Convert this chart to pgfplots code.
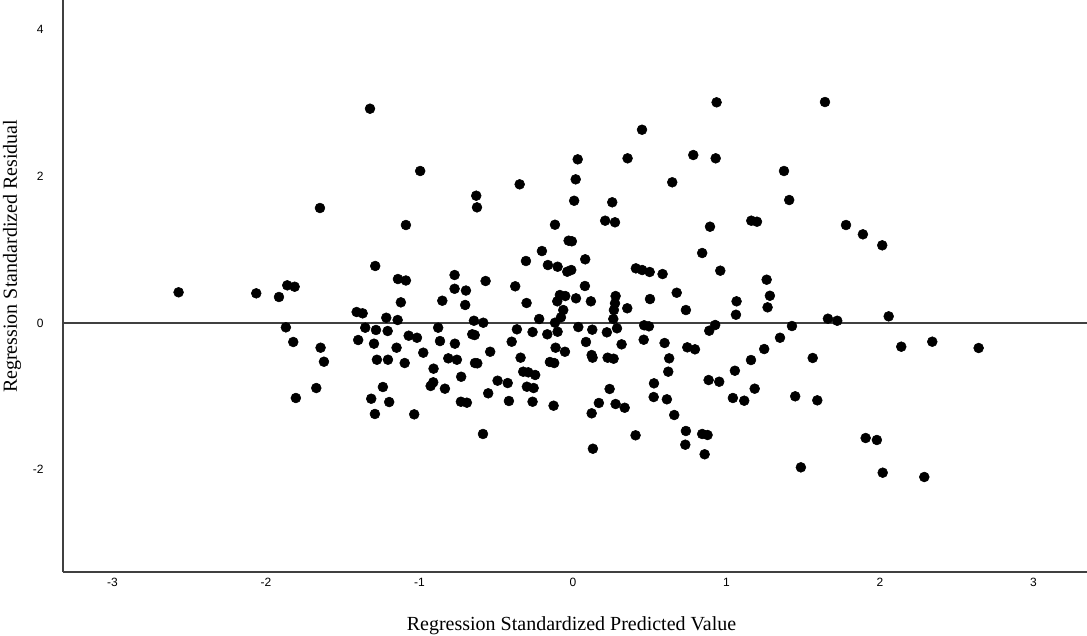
\documentclass[border=0pt]{standalone}
\usepackage{fontspec}
\setmainfont{Liberation Serif}
\newfontfamily\arial{Liberation Sans}
\usepackage{pgfplots}
\pgfplotsset{compat=1.18}
\pgfplotstableread{
x y
-2.569 0.419
-2.063 0.405
-1.915 0.355
-1.861 0.514
-1.813 0.495
-1.870 -0.059
-1.822 -0.259
-1.805 -1.023
-1.672 -0.887
-1.644 -0.337
-1.622 -0.528
-1.648 1.569
-1.322 2.924
-0.995 2.074
-1.088 1.337
-1.288 0.778
-1.140 0.600
-1.088 0.580
-0.771 0.655
-0.771 0.467
-0.697 0.443
-1.121 0.282
-0.851 0.304
-0.702 0.246
-1.409 0.150
-1.370 0.132
-1.216 0.072
-1.142 0.041
-1.353 -0.064
-1.283 -0.095
-1.207 -0.109
-0.878 -0.064
-1.070 -0.173
-1.016 -0.201
-1.399 -0.232
-1.296 -0.282
-0.866 -0.246
-0.769 -0.282
-1.149 -0.337
-1.277 -0.501
-1.205 -0.501
-1.096 -0.546
-0.975 -0.405
-0.812 -0.482
-0.756 -0.501
-0.908 -0.623
-0.728 -0.733
-1.238 -0.873
-0.910 -0.809
-0.927 -0.859
-0.834 -0.896
-1.314 -1.033
-1.197 -1.078
-1.290 -1.241
-1.034 -1.246
-0.730 -1.074
-0.691 -1.087
0.031 2.233
0.018 1.960
-0.347 1.892
-0.630 1.737
-0.625 1.578
0.008 1.668
0.256 1.647
-0.117 1.341
0.210 1.396
0.274 1.374
-0.028 1.123
-0.007 1.115
-0.202 0.982
-0.306 0.846
-0.163 0.791
-0.100 0.768
-0.037 0.700
-0.011 0.723
0.080 0.869
-0.569 0.573
-0.376 0.501
0.078 0.505
-0.302 0.273
-0.085 0.382
-0.050 0.368
-0.102 0.296
0.020 0.337
0.117 0.296
0.278 0.368
0.274 0.269
-0.063 0.177
0.267 0.177
-0.078 0.078
-0.220 0.055
0.263 0.055
-0.645 0.031
-0.584 0.004
-0.117 0.004
-0.365 -0.086
-0.263 -0.123
-0.167 -0.154
-0.100 -0.119
0.035 -0.055
0.126 -0.091
0.221 -0.127
0.287 -0.072
-0.656 -0.154
-0.640 -0.164
-0.399 -0.255
0.085 -0.259
-0.113 -0.337
-0.052 -0.392
-0.539 -0.392
0.122 -0.437
0.128 -0.473
-0.341 -0.473
0.226 -0.473
0.265 -0.487
-0.638 -0.546
-0.623 -0.550
-0.150 -0.532
-0.122 -0.546
-0.324 -0.664
-0.291 -0.673
-0.246 -0.709
-0.491 -0.787
-0.425 -0.819
-0.300 -0.869
-0.256 -0.887
-0.552 -0.959
0.239 -0.900
-0.417 -1.064
-0.263 -1.074
-0.126 -1.128
0.169 -1.091
0.278 -1.105
0.122 -1.232
-0.586 -1.514
0.130 -1.715
0.936 3.011
0.450 2.637
0.356 2.247
0.784 2.292
0.930 2.247
0.647 1.920
0.893 1.314
1.162 1.396
1.199 1.382
0.842 0.955
0.410 0.746
0.451 0.723
0.500 0.696
0.584 0.668
0.960 0.714
1.262 0.591
0.676 0.413
0.502 0.327
0.354 0.201
0.736 0.177
1.066 0.296
1.062 0.113
1.283 0.372
1.268 0.214
0.464 -0.031
0.495 -0.045
0.888 -0.105
0.927 -0.027
0.461 -0.228
0.317 -0.291
0.597 -0.273
0.745 -0.332
0.795 -0.359
1.246 -0.355
0.627 -0.482
1.160 -0.505
0.621 -0.664
1.055 -0.651
0.884 -0.778
0.953 -0.801
0.528 -0.823
1.184 -0.896
0.526 -1.010
0.612 -1.041
1.042 -1.023
1.116 -1.060
0.337 -1.156
0.660 -1.255
0.408 -1.532
0.736 -1.473
0.842 -1.514
0.877 -1.528
0.732 -1.660
0.858 -1.791
1.642 3.015
1.375 2.074
1.409 1.678
1.779 1.337
1.889 1.210
2.015 1.060
1.661 0.059
1.722 0.031
2.057 0.091
1.427 -0.041
1.349 -0.201
2.139 -0.323
1.562 -0.477
1.448 -1.000
1.592 -1.055
1.907 -1.569
1.980 -1.596
1.485 -1.969
2.018 -2.042
2.341 -0.255
2.643 -0.341
2.289 -2.101
}\pts
\begin{document}
\begin{tikzpicture}
\begin{axis}[
  scale only axis,
  width=768pt, height=429pt,
  xmin=-3.322, xmax=3.349,
  ymin=-3.397, ymax=4.407,
  axis x line*=bottom, axis y line*=left,
  axis line style={-, black!75, line width=0.8pt},
  xtick={-3,-2,-1,0,1,2,3},
  ytick={-2,0,2,4},
  tick style={draw=none},
  /pgf/number format/assume math mode=true,
  ticklabel style={font=\arial\fontsize{9}{10}\selectfont},
  xticklabel style={yshift=-1pt},
  yticklabel style={xshift=-11pt},
  xlabel={Regression Standardized Predicted Value},
  ylabel={Regression Standardized Residual},
  label style={font=\fontsize{15}{17}\selectfont},
  xlabel style={at={(axis description cs:0.4966,0)}, anchor=center, yshift=-40.5pt},
  ylabel style={at={(axis description cs:0,0.552)}, anchor=center, yshift=38.25pt},
  clip=false,
]
\addplot[black!75, line width=1pt, forget plot] coordinates {(-3.322,0) (3.349,0)};
\addplot[only marks, mark=*, mark size=3.7pt, black] table[x=x,y=y]{\pts};
\coordinate (bl) at (rel axis cs:0,0);
\coordinate (tr) at (rel axis cs:1,1);
\end{axis}
\pgfresetboundingbox
\path (bl) ++(-47.25pt,-47.25pt) rectangle (tr);
\end{tikzpicture}
\end{document}
